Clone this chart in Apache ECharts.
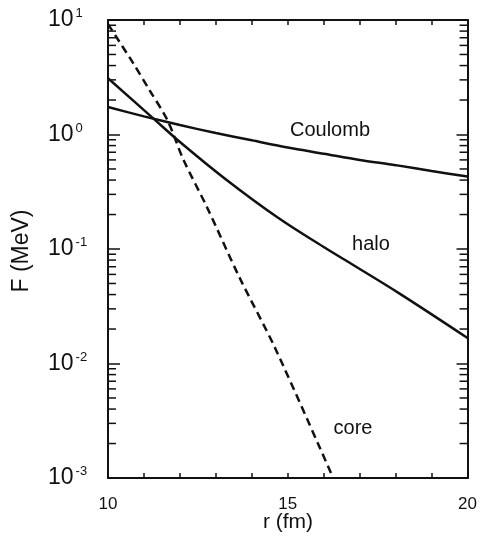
<!DOCTYPE html>
<html><head><meta charset="utf-8">
<script src="https://cdn.jsdelivr.net/npm/echarts@6/dist/echarts.min.js"></script>
<style>html,body{margin:0;padding:0;background:#fff}#c{width:480px;height:546px}</style>
</head><body><div id="c"></div>
<script>
// ---- data ----
const coulombR = [10, 11, 12, 13, 14, 15, 16, 17, 18, 19, 20];
const coulombF = [1.74, 1.44, 1.21, 1.03, 0.89, 0.77, 0.68, 0.60, 0.54, 0.48, 0.43];
const haloR = [10, 11.25, 12, 13.3, 14.7, 16, 16.9, 18.1, 20];
const haloF = [3.1, 1.39, 0.86, 0.40, 0.19, 0.104, 0.070, 0.041, 0.0167];
const coreR = [10, 10.7, 11.15, 11.65, 12.1, 12.75, 13.65, 14.65, 16.25];
const coreF = [9.2, 4.2, 2.45, 1.34, 0.60, 0.233, 0.057, 0.0136, 0.00102];
const xTickLabels = [10, 15, 20];
const yDecades = [0.001, 0.01, 0.1, 1];
const minorMultipliers = [2, 3, 4, 5, 6, 7, 8, 9];
const curveLabels = ['Coulomb', 'halo', 'core'];
const xTitle = 'r (fm)';
const yTitle = 'F (MeV)';

const FONT = '"Liberation Sans", Arial, Helvetica, sans-serif';
const INK = '#111';

const zip = (a, b) => a.map((v, i) => [v, b[i]]);
const minorData = [];
yDecades.forEach(d => minorMultipliers.forEach(m => minorData.push([10, d * m])));

const chart = echarts.init(document.getElementById('c'), null, {renderer: 'canvas'});
const axisLine = {show: true, onZero: false, lineStyle: {color: INK, width: 2}};

chart.setOption({
  animation: false,
  backgroundColor: '#fff',
  grid: {left: 108, right: 11, top: 20, bottom: 68, containLabel: false},
  xAxis: [
    {type: 'value', min: 10, max: 20, interval: 1, position: 'bottom',
     axisLine: axisLine,
     axisTick: {show: true, inside: true, length: 5, lineStyle: {color: INK, width: 1.5}},
     axisLabel: {formatter: v => xTickLabels.includes(v) ? String(v) : '', fontSize: 17,
                 margin: 18, color: INK, fontFamily: FONT},
     splitLine: {show: false}},
    {type: 'value', min: 10, max: 20, interval: 1, position: 'top',
     axisLine: axisLine,
     axisTick: {show: true, inside: true, length: 5, lineStyle: {color: INK, width: 1.5}},
     axisLabel: {show: false}, splitLine: {show: false}}
  ],
  yAxis: [
    {type: 'log', logBase: 10, min: 0.001, max: 10, splitNumber: 4, position: 'left',
     axisLine: axisLine,
     axisTick: {show: true, inside: true, length: 12, lineStyle: {color: INK, width: 1.5}},
     axisLabel: {
       align: 'left', margin: 60, color: INK,
       formatter: v => '{b|10}{s|' + Math.round(Math.log10(v)) + '}',
       rich: {
         b: {fontSize: 23, fontFamily: FONT, color: INK, lineHeight: 26},
         s: {fontSize: 13, fontFamily: FONT, color: INK, verticalAlign: 'top', padding: [0, 0, 0, 2]}
       }
     },
     splitLine: {show: false}},
    {type: 'log', logBase: 10, min: 0.001, max: 10, splitNumber: 4, position: 'right',
     axisLine: axisLine,
     axisTick: {show: true, inside: true, length: 11, lineStyle: {color: INK, width: 1.5}},
     axisLabel: {show: false}, splitLine: {show: false}}
  ],
  series: [
    {type: 'line', name: 'Coulomb', data: zip(coulombR, coulombF), showSymbol: false, smooth: 0.3,
     lineStyle: {color: INK, width: 2.5}, xAxisIndex: 0, yAxisIndex: 0},
    {type: 'line', name: 'halo', data: zip(haloR, haloF), showSymbol: false, smooth: 0.4,
     lineStyle: {color: INK, width: 2.5}, xAxisIndex: 0, yAxisIndex: 0},
    {type: 'line', name: 'core', data: zip(coreR, coreF), showSymbol: false, smooth: 0.3,
     lineStyle: {color: INK, width: 2.5, type: [8, 5]}, xAxisIndex: 0, yAxisIndex: 0},
    {type: 'custom', name: 'minor ticks', data: minorData, xAxisIndex: 0, yAxisIndex: 0,
     silent: true, clip: false,
     renderItem: (params, api) => {
       const v = api.value(1);
       const pL = api.coord([10, v]);
       const pR = api.coord([20, v]);
       const st = {stroke: INK, lineWidth: 1.5};
       return {type: 'group', children: [
         {type: 'line', shape: {x1: pL[0], y1: pL[1], x2: pL[0] + 8, y2: pL[1]}, style: st},
         {type: 'line', shape: {x1: pR[0] - 8, y1: pR[1], x2: pR[0], y2: pR[1]}, style: st}
       ]};
     }}
  ],
  graphic: [
    {type: 'text', x: 330, y: 130, style: {text: curveLabels[0], font: '20px ' + FONT, fill: INK, textAlign: 'center', textVerticalAlign: 'middle'}},
    {type: 'text', x: 371, y: 244, style: {text: curveLabels[1], font: '20px ' + FONT, fill: INK, textAlign: 'center', textVerticalAlign: 'middle'}},
    {type: 'text', x: 353, y: 428, style: {text: curveLabels[2], font: '20px ' + FONT, fill: INK, textAlign: 'center', textVerticalAlign: 'middle'}},
    {type: 'text', x: 288, y: 522, style: {text: xTitle, font: '21px ' + FONT, fill: INK, textAlign: 'center', textVerticalAlign: 'middle'}},
    {type: 'text', x: 22, y: 251, rotation: Math.PI / 2, style: {text: yTitle, font: '23px ' + FONT, fill: INK, textAlign: 'center', textVerticalAlign: 'middle'}}
  ]
});
</script>
</body></html>
